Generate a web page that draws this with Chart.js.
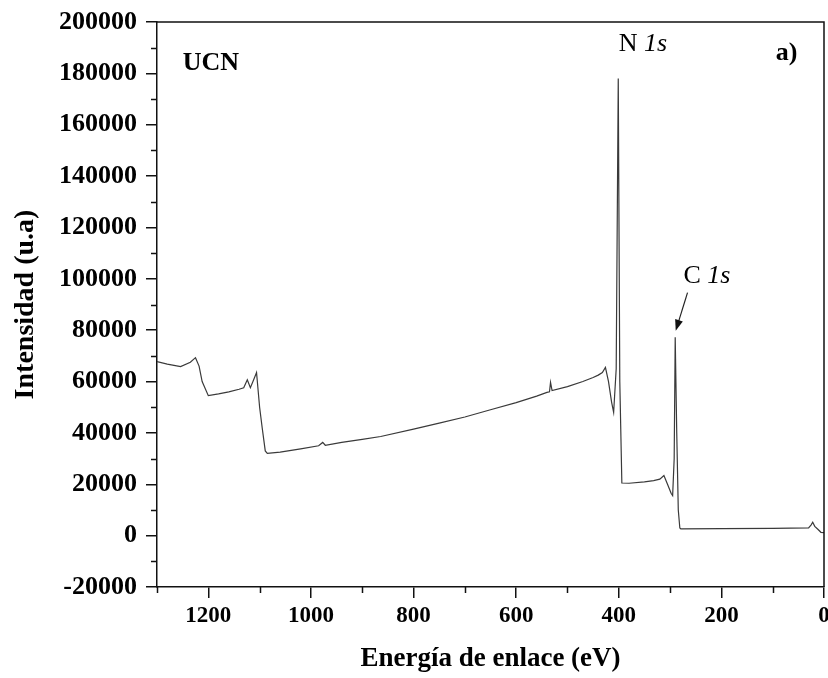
<!DOCTYPE html>
<html>
<head>
<meta charset="utf-8">
<script src="https://cdn.jsdelivr.net/npm/chart.js@4.4.1/dist/chart.umd.min.js"></script>
<style>
  html, body { margin: 0; padding: 0; background: #ffffff; }
  #wrap { width: 828px; height: 678px; }
</style>
</head>
<body>
<div id="wrap"><canvas id="c" width="828" height="678"></canvas></div>
<script>
// ---- data (XPS survey spectrum, UCN) ----
const energy = [1300,1280,1254,1235,1225,1218,1212,1200,1180,1160,
  1140,1131,1124,1118,1112,1106,1100,1095,1089,1085,
  1060,1020,985,977,972,940,900,864,800,750,
  700,650,600,560,540,535,533,530,500,470,
  450,440,432,426,420,414,410,405,401,398,
  394,380,350,332,320,312,305,298,295,292,
  290,287,284,281,279,200,100,30,25,22,
  18,12,6,0];
const intensity = [67800,66800,65800,67500,69300,66000,60000,54500,55200,56000,
  57000,57600,60700,57600,60500,63500,50000,42000,33000,32000,
  32500,33800,35000,36300,35200,36300,37500,38600,41500,43800,
  46200,49000,51800,54300,55800,56000,59700,56500,58000,60000,
  61600,62500,63500,65500,60000,52000,48000,65000,178000,60000,
  20500,20400,20900,21400,22000,23400,20000,16500,15600,30000,
  77200,40000,10000,3000,2600,2700,2800,3000,4200,5200,
  3600,2500,1300,1200];

const xTitle = 'Energía de enlace (eV)';
const yTitle = 'Intensidad (u.a)';
const sampleLabel = 'UCN';
const panelLabel = 'a)';
const peakLabels = [
  { main: 'N ', italic: '1s', e: 400, v: 191200 },
  { main: 'C ', italic: '1s', e: 274, v: 100900 }
];
const arrowFromTo = { e1: 266, v1: 94600, e2: 289, v2: 79800 };

const serif = "'Liberation Serif', 'Times New Roman', serif";

const points = energy.map((e, i) => ({ x: e, y: intensity[i] }));

const decor = {
  id: 'decor',
  afterDraw(chart) {
    const { ctx, chartArea: a, scales: { x, y } } = chart;
    ctx.save();
    // frame top & right
    ctx.strokeStyle = '#111';
    ctx.lineWidth = 1.5;
    ctx.beginPath();
    ctx.moveTo(a.left, a.top); ctx.lineTo(a.right, a.top); ctx.lineTo(a.right, a.bottom);
    ctx.stroke();
    // minor ticks
    ctx.lineWidth = 1.5;
    ctx.beginPath();
    for (let v = -10000; v < 200000; v += 20000) {
      const py = Math.round(y.getPixelForValue(v)) + 0.5;
      ctx.moveTo(a.left - 6, py); ctx.lineTo(a.left, py);
    }
    for (let v = 100; v <= 1300; v += 200) {
      const px = Math.round(x.getPixelForValue(v)) + 0.5;
      ctx.moveTo(px, a.bottom); ctx.lineTo(px, a.bottom + 6);
    }
    ctx.stroke();
    // labels
    ctx.fillStyle = '#000';
    ctx.textBaseline = 'middle';
    ctx.textAlign = 'left';
    ctx.font = 'bold 26px ' + serif;
    ctx.fillText(sampleLabel, x.getPixelForValue(1250), y.getPixelForValue(183800));
    ctx.fillText(panelLabel, x.getPixelForValue(94), y.getPixelForValue(187700));
    peakLabels.forEach(p => {
      const px = x.getPixelForValue(p.e), py = y.getPixelForValue(p.v);
      ctx.font = '26px ' + serif;
      ctx.fillText(p.main, px, py);
      const w = ctx.measureText(p.main).width;
      ctx.font = 'italic 26px ' + serif;
      ctx.fillText(p.italic, px + w, py);
    });
    // arrow to C 1s
    const x1 = x.getPixelForValue(arrowFromTo.e1), y1 = y.getPixelForValue(arrowFromTo.v1);
    const x2 = x.getPixelForValue(arrowFromTo.e2), y2 = y.getPixelForValue(arrowFromTo.v2);
    const ang = Math.atan2(y2 - y1, x2 - x1);
    ctx.strokeStyle = '#222';
    ctx.lineWidth = 1.2;
    ctx.beginPath(); ctx.moveTo(x1, y1); ctx.lineTo(x2 - 8 * Math.cos(ang), y2 - 8 * Math.sin(ang)); ctx.stroke();
    ctx.fillStyle = '#111';
    ctx.beginPath();
    ctx.moveTo(x2, y2);
    ctx.lineTo(x2 - 11 * Math.cos(ang) + 4 * Math.sin(ang), y2 - 11 * Math.sin(ang) - 4 * Math.cos(ang));
    ctx.lineTo(x2 - 11 * Math.cos(ang) - 4 * Math.sin(ang), y2 - 11 * Math.sin(ang) + 4 * Math.cos(ang));
    ctx.closePath(); ctx.fill();
    ctx.restore();
  }
};

new Chart(document.getElementById('c'), {
  type: 'line',
  data: {
    datasets: [{
      label: sampleLabel,
      data: points,
      borderColor: '#3a3a3a',
      borderWidth: 1.2,
      pointRadius: 0,
      tension: 0,
      fill: false
    }]
  },
  options: {
    responsive: false,
    animation: false,
    events: [],
    layout: { padding: { left: 0, top: 22, right: 4, bottom: 0 } },
    plugins: { legend: { display: false }, tooltip: { enabled: false }, title: { display: false } },
    scales: {
      x: {
        type: 'linear',
        reverse: true,
        min: 0, max: 1300,
        afterFit(s) { s.height = 91; s.paddingLeft = 0; s.paddingRight = 0; },
        border: { display: true, color: '#111', width: 1.5 },
        grid: { display: true, drawOnChartArea: false, drawTicks: true, tickLength: 11, color: '#111', lineWidth: 1.5 },
        ticks: {
          stepSize: 200, includeBounds: false, autoSkip: false, maxRotation: 0,
          color: '#000', padding: 4,
          font: { family: serif, size: 23, weight: 'bold' },
          callback: v => String(v)
        },
        title: {
          display: true, text: xTitle, color: '#000',
          font: { family: serif, size: 27, weight: 'bold' },
          padding: { top: 0, bottom: 3 }
        }
      },
      y: {
        type: 'linear',
        min: -20000, max: 200000,
        afterFit(s) { s.width = 157; s.paddingTop = 0; s.paddingBottom = 0; },
        border: { display: true, color: '#111', width: 1.5 },
        grid: { display: true, drawOnChartArea: false, drawTicks: true, tickLength: 11, color: '#111', lineWidth: 1.5 },
        ticks: {
          stepSize: 20000, includeBounds: false, autoSkip: false,
          color: '#000', padding: 9,
          font: { family: serif, size: 26, weight: 'bold' },
          callback: v => String(v)
        },
        title: {
          display: true, text: yTitle, color: '#000',
          font: { family: serif, size: 28, weight: 'bold' },
          padding: { top: 9, bottom: 0 }
        }
      }
    }
  },
  plugins: [decor]
});
</script>
</body>
</html>
